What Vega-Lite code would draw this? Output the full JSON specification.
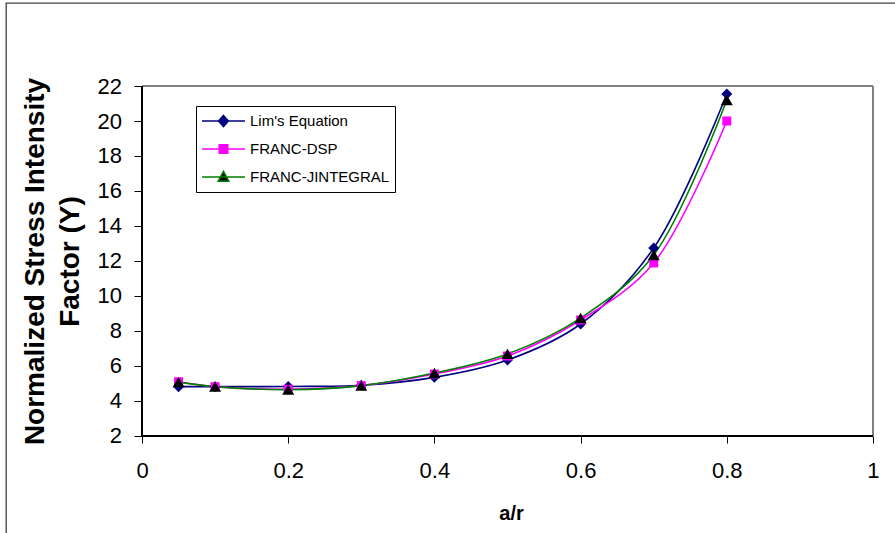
{
  "$schema": "https://vega.github.io/schema/vega-lite/v6.json",
  "width": 894,
  "height": 535,
  "autosize": "none",
  "padding": {"left": 6, "top": 3, "right": 0, "bottom": 0},
  "background": "white",
  "config": {
    "font": "Liberation Sans",
    "view": {"stroke": "#404040", "strokeWidth": 1.3},
    "axis": {
      "grid": false,
      "domain": false,
      "ticks": true,
      "tickColor": "black",
      "tickWidth": 1,
      "labelColor": "black",
      "titleColor": "black",
      "labelFont": "Liberation Sans",
      "titleFont": "Liberation Sans",
      "labelFontSize": 22,
      "titleFontWeight": "bold"
    }
  },
  "datasets": {
    "curves": [
      {"ratio": 0.05, "series": "Lim's Equation", "Y": 4.82},
      {"ratio": 0.1, "series": "Lim's Equation", "Y": 4.82},
      {"ratio": 0.2, "series": "Lim's Equation", "Y": 4.83},
      {"ratio": 0.3, "series": "Lim's Equation", "Y": 4.9},
      {"ratio": 0.4, "series": "Lim's Equation", "Y": 5.35},
      {"ratio": 0.5, "series": "Lim's Equation", "Y": 6.34},
      {"ratio": 0.6, "series": "Lim's Equation", "Y": 8.4},
      {"ratio": 0.7, "series": "Lim's Equation", "Y": 12.74},
      {"ratio": 0.8, "series": "Lim's Equation", "Y": 21.54},
      {"ratio": 0.05, "series": "FRANC-DSP", "Y": 5.1},
      {"ratio": 0.1, "series": "FRANC-DSP", "Y": 4.82},
      {"ratio": 0.2, "series": "FRANC-DSP", "Y": 4.67},
      {"ratio": 0.3, "series": "FRANC-DSP", "Y": 4.88},
      {"ratio": 0.4, "series": "FRANC-DSP", "Y": 5.54},
      {"ratio": 0.5, "series": "FRANC-DSP", "Y": 6.57},
      {"ratio": 0.6, "series": "FRANC-DSP", "Y": 8.63},
      {"ratio": 0.7, "series": "FRANC-DSP", "Y": 11.89},
      {"ratio": 0.8, "series": "FRANC-DSP", "Y": 20.0},
      {"ratio": 0.05, "series": "FRANC-JINTEGRAL", "Y": 5.08},
      {"ratio": 0.1, "series": "FRANC-JINTEGRAL", "Y": 4.82},
      {"ratio": 0.2, "series": "FRANC-JINTEGRAL", "Y": 4.65},
      {"ratio": 0.3, "series": "FRANC-JINTEGRAL", "Y": 4.88},
      {"ratio": 0.4, "series": "FRANC-JINTEGRAL", "Y": 5.6},
      {"ratio": 0.5, "series": "FRANC-JINTEGRAL", "Y": 6.69},
      {"ratio": 0.6, "series": "FRANC-JINTEGRAL", "Y": 8.74},
      {"ratio": 0.7, "series": "FRANC-JINTEGRAL", "Y": 12.34},
      {"ratio": 0.8, "series": "FRANC-JINTEGRAL", "Y": 21.2}
    ]
  },
  "data": {"name": "curves"},
  "encoding": {
    "x": {
      "field": "ratio",
      "type": "quantitative",
      "scale": {"domain": [-0.18605, 1.03694], "nice": false, "zero": false},
      "axis": {
        "values": [0, 0.2, 0.4, 0.6, 0.8, 1],
        "format": "~g",
        "offset": -102,
        "tickSize": 7,
        "labelPadding": 17,
        "title": "a/r",
        "titleFontSize": 20,
        "titlePadding": 22,
        "titleX": 505
      }
    },
    "y": {
      "field": "Y",
      "type": "quantitative",
      "scale": {"domain": [-3.829, 26.743], "nice": false, "zero": false},
      "axis": {
        "values": [2, 4, 6, 8, 10, 12, 14, 16, 18, 20, 22],
        "offset": -136,
        "tickSize": 8,
        "labelPadding": 12.5,
        "title": ["Normalized Stress Intensity", "Factor (Y)"],
        "titleFontSize": 28,
        "titleLineHeight": 35,
        "titlePadding": 13,
        "titleY": 258
      }
    }
  },
  "layer": [
    {
      "mark": {"type": "rule", "color": "#808080", "strokeWidth": 1},
      "encoding": {"x": {"datum": 0}, "x2": {"datum": 1}, "y": {"datum": 22}}
    },
    {
      "mark": {"type": "rule", "color": "#808080", "strokeWidth": 1},
      "encoding": {"x": {"datum": 1}, "y": {"datum": 2}, "y2": {"datum": 22}}
    },
    {
      "mark": {"type": "rule", "color": "black", "strokeWidth": 1.6},
      "encoding": {"x": {"datum": 0}, "y": {"datum": 2}, "y2": {"datum": 22}}
    },
    {
      "mark": {"type": "rule", "color": "black", "strokeWidth": 1.6},
      "encoding": {"x": {"datum": 0}, "x2": {"datum": 1}, "y": {"datum": 2}}
    },
    {
      "mark": {"type": "line", "interpolate": "catmull-rom", "strokeWidth": 1.6},
      "encoding": {
        "color": {
          "field": "series",
          "type": "nominal",
          "scale": {
            "domain": ["Lim's Equation", "FRANC-DSP", "FRANC-JINTEGRAL"],
            "range": ["#000080", "#FF00FF", "#008000"]
          },
          "legend": {
            "orient": "none",
            "legendX": 190,
            "legendY": 103,
            "title": null,
            "padding": 5,
            "rowPadding": 8,
            "clipHeight": 20,
            "symbolSize": 1849,
            "symbolStrokeWidth": 1.5,
            "labelFont": "Liberation Sans",
            "labelFontSize": 15,
            "labelColor": "black",
            "labelOffset": 4,
            "strokeColor": "black",
            "fillColor": "white",
            "encode": {
              "symbols": {
                "update": {
                  "shape": {"signal": "datum.value === 'FRANC-DSP' ? 'M-1,0H1M-0.2,-0.2H0.2V0.2H-0.2Z' : datum.value === 'FRANC-JINTEGRAL' ? 'M-1,0H1M0,-0.26L0.25,0.2H-0.25Z' : 'M-1,0H1M0,-0.26L0.23,0L0,0.26L-0.23,0Z'"},
                  "fill": {"signal": "datum.value === 'FRANC-JINTEGRAL' ? '#000000' : datum.value === 'FRANC-DSP' ? '#FF00FF' : '#000080'"}
                }
              }
            }
          }
        }
      }
    },
    {
      "transform": [{"filter": "datum.series === \"Lim's Equation\""}],
      "mark": {"type": "point", "shape": "diamond", "size": 121, "filled": true, "color": "#000080", "opacity": 1, "strokeWidth": 0}
    },
    {
      "transform": [{"filter": "datum.series === 'FRANC-DSP'"}],
      "mark": {"type": "point", "shape": "square", "size": 81, "filled": true, "color": "#FF00FF", "opacity": 1, "strokeWidth": 0}
    },
    {
      "transform": [{"filter": "datum.series === 'FRANC-JINTEGRAL'"}],
      "mark": {"type": "point", "shape": "triangle-up", "size": 144, "filled": true, "color": "#000000", "opacity": 1, "strokeWidth": 0}
    }
  ]
}
